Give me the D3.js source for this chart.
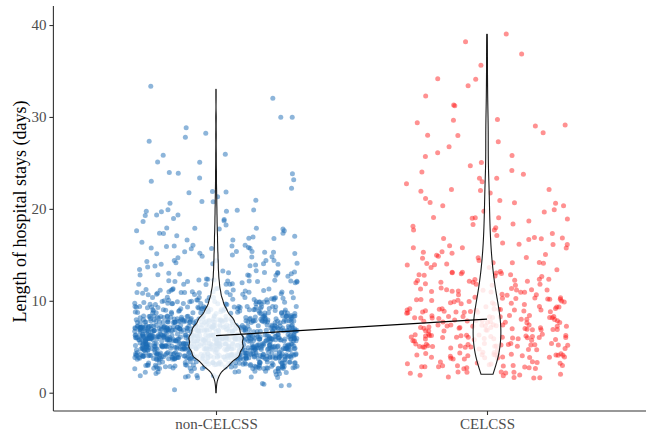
<!DOCTYPE html>
<html>
<head>
<meta charset="utf-8">
<script src="https://cdn.jsdelivr.net/npm/d3@7"></script>
<style>
  html, body { margin: 0; padding: 0; background: #fff; }
  svg { display: block; }
</style>
</head>
<body>
<svg id="chart" width="646" height="435"></svg>
<script>
// ---- Data ----
const categories = ["non-CELCSS", "CELCSS"];
// length of stay (days) and number of patients at each length
const daysNon   = [0,1,2,3,4,5,6,7,8,9,10,11,12,13,14,15,16,17,18,19,20,21,22,23,24,25,26,27,28,29,30,31,32,33];
const countsNon = [1,4,22,85,155,180,180,155,115,70,45,30,22,17,15,13,11,10,8,7,6,5,4,3,3,2,2,1,2,1,2,0,1,1];
const daysCel   = [2,3,4,5,6,7,8,9,10,11,12,13,14,15,16,17,18,19,20,21,22,23,24,25,26,27,28,29,30,31,32,33,34,35,36,37,38,39];
const countsCel = [14,21,27,29,31,31,30,26,22,18,15,13,11,9,8,7,6,6,5,5,5,4,3,2,3,2,3,3,2,2,1,1,2,0,1,1,1,1];
// summary line values (centre of each group)
const summaryValues = [6.2, 8.0];
const yTicks = [0, 10, 20, 30, 40];
const yTitle = "Length of hospital stays (days)";

// ---- Layout ----
const svg = d3.select("#chart");
const pLeft = 53.4, pRight = 649.6, pTop = 6, pBottom = 411;
const colors = ["#1c6cb6", "#ff1a1a"];
const pointOpacity = [0.5, 0.48];

const x = d3.scalePoint().domain(categories).range([pLeft, pRight]).padding(0.6);
const step = x.step();
const y = d3.scaleLinear().domain([-1.99, 42.07]).range([pBottom, pTop]);

function expand(days, counts) {
  const out = [];
  days.forEach((d, i) => { for (let k = 0; k < counts[i]; k++) out.push(d); });
  return out;
}
const groups = [expand(daysNon, countsNon), expand(daysCel, countsCel)];

// deterministic hash-based jitter (like geom_jitter width 0.3, height 0.4)
function hash01(n) {
  let h = (n | 0) * 2654435761;
  h = Math.imul(h ^ (h >>> 16), 0x45d9f3b);
  h = Math.imul(h ^ (h >>> 16), 0x45d9f3b);
  h = h ^ (h >>> 16);
  return (h >>> 0) / 4294967296;
}

const pointsG = svg.append("g");
groups.forEach((vals, gi) => {
  const cx = x(categories[gi]);
  const pts = vals.map((v, i) => {
    const u = hash01(i * 2 + 1 + gi * 100003);
    const w = hash01(i * 2 + 2 + gi * 100003 + 55555);
    return { px: cx + (u * 2 - 1) * 0.3 * step, v: v + (w * 2 - 1) * 0.4 };
  });
  pointsG.append("g").selectAll("circle").data(pts).join("circle")
    .attr("cx", d => d.px)
    .attr("cy", d => y(d.v))
    .attr("r", 2.5)
    .attr("fill", colors[gi])
    .attr("fill-opacity", pointOpacity[gi]);
});

// ---- Violins (gaussian KDE, nrd0 bandwidth, area scaling, trimmed) ----
function nrd0(vals) {
  const sd = d3.deviation(vals);
  const iqr = d3.quantile(vals, 0.75) - d3.quantile(vals, 0.25);
  let lo = Math.min(sd, iqr / 1.34);
  if (!(lo > 0)) lo = sd || 1;
  return 0.9 * lo * Math.pow(vals.length, -0.2);
}
function kde(vals) {
  const sorted = vals.slice().sort(d3.ascending);
  const bw = nrd0(sorted);
  const mn = sorted[0], mx = sorted[sorted.length - 1];
  const n = 512, out = [];
  for (let i = 0; i < n; i++) {
    const t = mn + (mx - mn) * i / (n - 1);
    let s = 0;
    for (const v of sorted) { const z = (t - v) / bw; s += Math.exp(-0.5 * z * z); }
    out.push({ t, d: s / (sorted.length * bw * Math.sqrt(2 * Math.PI)) });
  }
  return out;
}
const dens = groups.map(kde);
const maxD = d3.max(dens, ds => d3.max(ds, d => d.d));
const violinWidth = 0.2; // in category units
const vg = svg.append("g");
dens.forEach((ds, gi) => {
  const cx = x(categories[gi]);
  const hw = d => d.d / maxD * violinWidth / 2 * step;
  const area = d3.area()
    .y(d => y(d.t))
    .x0(d => cx - hw(d))
    .x1(d => cx + hw(d))
    .curve(d3.curveLinear);
  vg.append("path")
    .attr("d", area(ds) + "Z")
    .attr("fill", "#ffffff")
    .attr("fill-opacity", 0.82)
    .attr("stroke", "#1a1a1a")
    .attr("stroke-width", 1.1)
    .attr("stroke-linejoin", "round");
});

// ---- Summary line ----
const line = d3.line().x((d, i) => x(categories[i])).y(d => y(d));
svg.append("path")
  .attr("d", line(summaryValues))
  .attr("fill", "none")
  .attr("stroke", "#000")
  .attr("stroke-width", 1.2);

// ---- Axes ----
const fontFam = "'Liberation Serif', 'Times New Roman', serif";
const yAxis = svg.append("g").attr("transform", `translate(${pLeft},0)`)
  .call(d3.axisLeft(y).tickValues(yTicks).tickSize(4).tickPadding(3));
yAxis.select(".domain").attr("d", `M0,${pTop}V${pBottom}`);
const xAxis = svg.append("g").attr("transform", `translate(0,${pBottom})`)
  .call(d3.axisBottom(x).tickSize(4).tickPadding(3));
xAxis.select(".domain").attr("d", `M${pLeft},0H${pRight}`);
[yAxis, xAxis].forEach(a => {
  a.select(".domain").attr("stroke", "#333").attr("stroke-width", 1.1);
  a.selectAll(".tick line").attr("stroke", "#333").attr("stroke-width", 1.1);
  a.selectAll(".tick text")
    .attr("fill", "#4d4d4d")
    .style("font-family", fontFam)
    .style("font-size", "15px");
});

svg.append("text")
  .attr("transform", `translate(20,${(pTop + pBottom) / 2 + 3}) rotate(-90)`)
  .attr("text-anchor", "middle")
  .attr("dominant-baseline", "central")
  .style("font-family", fontFam)
  .style("font-size", "18px")
  .attr("fill", "#000")
  .text(yTitle);
</script>
</body>
</html>
